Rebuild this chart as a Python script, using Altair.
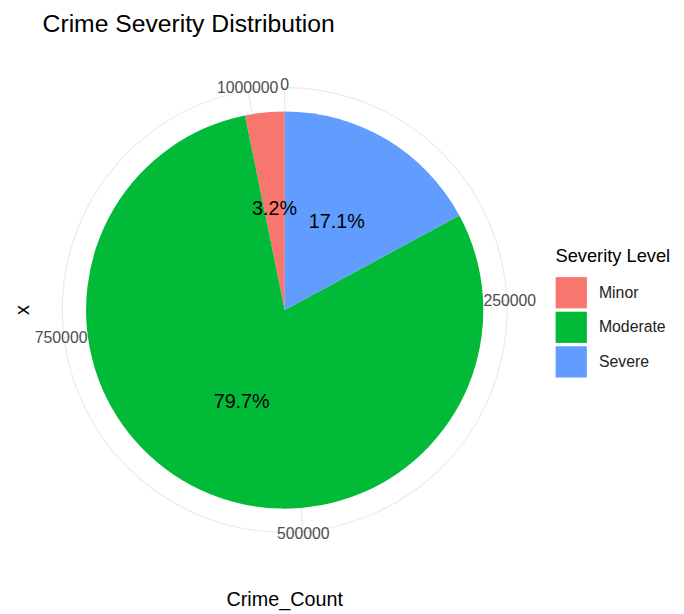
import altair as alt
import pandas as pd

FONT = "Liberation Sans"

# ---- data ----
severity = ["Minor", "Moderate", "Severe"]
crime_count = [32900, 818500, 175600]
tick_values = [0, 250000, 500000, 750000, 1000000]
tick_labels = ["0", "250000", "500000", "750000", "1000000"]
colors = ["#F8766D", "#00BA38", "#619CFF"]

TOTAL = sum(crime_count)
W, H = 554, 524
R_PIE = 201
R_GRID = 225
R_LABEL = 228

df = pd.DataFrame({"Severity": severity, "Crime_Count": crime_count})
ticks = pd.DataFrame({"tick": tick_values, "label": tick_labels})

theta_scale = alt.Scale(domain=[0, TOTAL])

ring = alt.Chart(pd.DataFrame({"a": [0]})).mark_arc(
    radius=R_GRID, fillOpacity=0, stroke="#EBEBEB", strokeWidth=1.2
).encode(theta=alt.datum(0), theta2=alt.datum(TOTAL))

spokes = alt.Chart(ticks).mark_arc(
    radius=R_GRID, fillOpacity=0, stroke="#EBEBEB", strokeWidth=1.2
).encode(
    theta=alt.Theta("tick:Q", scale=theta_scale, stack=None),
    theta2=alt.Theta2("tick"),
)

base = alt.Chart(df).encode(
    theta=alt.Theta("Crime_Count:Q", stack=True, scale=theta_scale),
    order=alt.Order("Severity:N", sort="descending"),
)

pie = base.mark_arc(radius=R_PIE).encode(
    color=alt.Color(
        "Severity:N",
        scale=alt.Scale(domain=severity, range=colors),
        legend=alt.Legend(
            title="Severity Level",
            orient="none",
            legendX=551,
            legendY=198,
            symbolType="square",
            symbolSize=1000,
            symbolStrokeWidth=0,
            symbolOpacity=1,
            titleFontSize=18.5,
            labelFontSize=16,
            titleFont=FONT,
            labelFont=FONT,
            titleColor="black",
            labelColor="#222222",
            titleFontWeight="normal",
            labelOffset=12,
            rowPadding=3,
            titlePadding=12,
            padding=0,
        ),
    )
)

pct = base.mark_text(radius=103, fontSize=20, font=FONT).encode(
    text="pct:N",
    detail="Severity:N",
    color=alt.value("black"),
).transform_joinaggregate(
    total="sum(Crime_Count)"
).transform_calculate(
    pct="format(datum.Crime_Count / datum.total, '.1%')"
)

tick_text = alt.Chart(ticks).mark_text(
    radius=R_LABEL, fontSize=16, color="#4D4D4D", font=FONT
).encode(
    theta=alt.Theta("tick:Q", scale=theta_scale, stack=None),
    text="label:N",
)

ylab = alt.Chart(pd.DataFrame({"t": ["x"]})).mark_text(
    fontSize=20, angle=270, font=FONT, color="black"
).encode(text="t:N", x=alt.value(12), y=alt.value(262))

xlab = alt.Chart(pd.DataFrame({"t": ["Crime_Count"]})).mark_text(
    fontSize=20, font=FONT, color="black"
).encode(text="t:N", x=alt.value(277), y=alt.value(556))

chart = alt.layer(ring, spokes, pie, pct, tick_text, ylab, xlab).properties(
    width=W,
    height=H,
    title=alt.TitleParams(
        "Crime Severity Distribution",
        anchor="start",
        dx=32,
        fontSize=25,
        font=FONT,
        fontWeight="normal",
        color="black",
        offset=14,
    ),
    autosize=alt.AutoSizeParams(type="none"),
    padding={"left": 3, "top": 40, "right": 119, "bottom": 42},
    background="white",
).configure_view(strokeWidth=0)

chart.save("out.html", embed_options={"renderer": "svg", "actions": False})
